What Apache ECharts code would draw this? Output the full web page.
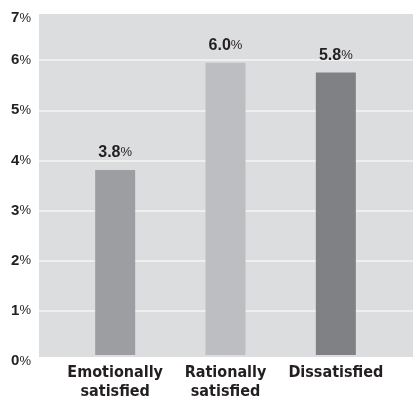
<!DOCTYPE html>
<html>
<head>
<meta charset="utf-8">
<script src="https://cdn.jsdelivr.net/npm/echarts@6/dist/echarts.min.js"></script>
<style>
  html, body { margin: 0; padding: 0; background: #ffffff; }
  #chart { width: 413px; height: 401px; }
</style>
</head>
<body>
<div id="chart"></div>
<script>
// Customer segments and their values (percent)
const categories = ['Emotionally\nsatisfied', 'Rationally\nsatisfied', 'Dissatisfied'];
const values = [3.8, 6.0, 5.8];
const barColors = ['#9d9ea1', '#bdbec1', '#808184'];
const yTicks = [0, 1, 2, 3, 4, 5, 6, 7];

const textColor = '#231f20';
const narrowFont = '"Liberation Sans Narrow", "DejaVu Sans Condensed", "Liberation Sans", sans-serif';
const plainFont = '"Liberation Sans", Arial, sans-serif';
const yMax = yTicks[yTicks.length - 1];

const chart = echarts.init(document.getElementById('chart'));

chart.setOption({
  animation: false,
  grid: [
    // shaded panel
    { left: 39, right: 0, top: 14, bottom: 44, show: true, backgroundColor: '#dcdddf', borderWidth: 0 },
    // band holding the bars
    { left: 60, right: 22, top: 14, bottom: 44 },
    // percentage scale with its guide lines
    { left: 39, right: 0, top: 10, bottom: 40 }
  ],
  xAxis: [
    { gridIndex: 0, type: 'value', show: false, min: 0, max: 1 },
    {
      gridIndex: 1,
      type: 'category',
      data: categories,
      axisLine: { show: false },
      axisTick: { show: false },
      axisLabel: {
        interval: 0,
        margin: 8,
        color: textColor,
        fontFamily: narrowFont,
        fontWeight: 'bold',
        fontSize: 16,
        lineHeight: 19
      }
    },
    { gridIndex: 2, type: 'value', show: false, min: 0, max: 1 }
  ],
  yAxis: [
    { gridIndex: 0, type: 'value', show: false, min: 0, max: yMax, splitLine: { show: false } },
    { gridIndex: 1, type: 'value', show: false, min: 0, max: yMax, splitLine: { show: false } },
    {
      gridIndex: 2,
      type: 'value',
      min: yTicks[0],
      max: yMax,
      interval: 1,
      axisLine: { show: false },
      axisTick: { show: false },
      splitLine: { showMinLine: false, showMaxLine: false, lineStyle: { color: '#f4f4f5', width: 1.5 } },
      axisLabel: {
        margin: 8,
        color: textColor,
        fontFamily: plainFont,
        fontWeight: 'bold',
        fontSize: 15,
        // the top label sits a little lower, inside the panel
        formatter: v => v === yMax ? '{tn|' + v + '}{tp|%}' : v + '{p|%}',
        rich: {
          p: { color: textColor, fontFamily: plainFont, fontWeight: 'normal', fontSize: 13 },
          tn: { color: textColor, fontFamily: plainFont, fontWeight: 'bold', fontSize: 15, padding: [16, 0, 0, 0] },
          tp: { color: textColor, fontFamily: plainFont, fontWeight: 'normal', fontSize: 13, padding: [16, 0, 0, 0] }
        }
      }
    }
  ],
  series: [
    {
      type: 'bar',
      xAxisIndex: 1,
      yAxisIndex: 1,
      barWidth: 40,
      data: values.map((v, i) => ({ value: v, itemStyle: { color: barColors[i] } })),
      label: {
        show: true,
        position: 'top',
        distance: 9,
        formatter: p => '{n|' + p.value.toFixed(1) + '}{p|%}',
        rich: {
          n: { color: textColor, fontFamily: plainFont, fontWeight: 'bold', fontSize: 16 },
          p: { color: textColor, fontFamily: plainFont, fontSize: 13 }
        }
      }
    }
  ]
});
</script>
</body>
</html>
